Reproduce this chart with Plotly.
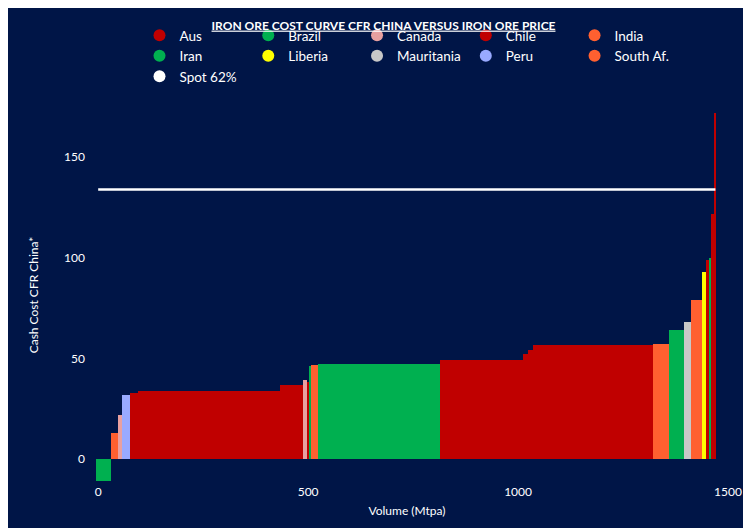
import plotly.graph_objects as go

countries = ["Aus", "Brazil", "Canada", "Chile", "India", "Iran", "Liberia", "Mauritania", "Peru", "South Af."]
colors = ["#C00000", "#00B050", "#E8A0A0", "#C00000", "#FF6030", "#00B050", "#FFFF00", "#C8C8C8", "#99AAFF", "#FF6030"]

seg_country = ["Brazil", "India", "Canada", "Peru", "Chile", "Aus", "Aus", "Canada", "Chile", "Iran", "India",
               "Iran", "Aus", "Aus", "Aus", "Aus", "India", "Iran", "Mauritania", "South Af.", "Liberia",
               "Chile", "Iran", "Aus", "Aus"]
seg_start = [-5, 31, 48, 56, 76, 95, 433, 488, 498, 503, 506, 524, 814, 1012, 1024, 1035, 1321, 1360, 1395, 1412, 1438,
             1448, 1457, 1460, 1466]
seg_end = [31, 48, 56, 76, 95, 433, 488, 498, 503, 506, 524, 814, 1012, 1024, 1035, 1321, 1360, 1395, 1412, 1438, 1448,
           1457, 1460, 1466, 1471]
seg_cost = [-11, 13, 22, 32, 33, 34, 36.5, 39, 38, 46, 46.5, 47, 49, 52, 54, 56.5, 57, 64, 68, 79, 93,
            99, 100, 122, 172]
spot_x = [0, 1470]
spot_y = [134, 134]

fig = go.Figure()
for c, col in zip(countries, colors):
    idx = [i for i, s in enumerate(seg_country) if s == c]
    if idx:
        fig.add_trace(go.Bar(
            x=[(seg_start[i] + seg_end[i]) / 2 for i in idx],
            width=[seg_end[i] - seg_start[i] for i in idx],
            y=[seg_cost[i] for i in idx],
            marker=dict(color=col, line=dict(width=0)),
            name=c, showlegend=False))
    fig.add_trace(go.Scatter(x=[None], y=[None], mode="markers", name=c,
                             marker=dict(color=col, size=12, symbol="circle")))
fig.add_trace(go.Scatter(x=spot_x, y=spot_y, mode="lines", line=dict(color="white", width=2.5),
                         name="Spot 62%", showlegend=False))
fig.add_trace(go.Scatter(x=[None], y=[None], mode="markers", name="Spot 62%",
                         marker=dict(color="white", size=12, symbol="circle")))

bg = "#001547"
fig.update_layout(
    width=751, height=528, paper_bgcolor=bg, plot_bgcolor=bg,
    font=dict(family="Lato", color="white", size=12),
    title=dict(text="<b><u>IRON ORE COST CURVE CFR CHINA VERSUS IRON ORE PRICE</u></b>",
               x=0.5, xanchor="center", y=0.975, font=dict(size=12)),
    barmode="overlay", bargap=0,
    margin=dict(l=78, r=31, t=85, b=53),
    legend=dict(orientation="h", x=0.5, xanchor="center", y=1.04, yanchor="bottom",
                font=dict(size=13.5), itemwidth=30, tracegroupgap=0, entrywidthmode="pixels", entrywidth=0),
    xaxis=dict(range=[-29, 1500], showgrid=False, zeroline=False, tickvals=[0, 500, 1000, 1500],
               automargin=False, title=dict(text="Volume (Mtpa)", font=dict(size=12), standoff=8)),
    yaxis=dict(range=[-12, 175], showgrid=False, zeroline=False, tickvals=[0, 50, 100, 150],
               automargin=False, title=dict(text="Cash Cost CFR China*", font=dict(size=12), standoff=22)),
)
fig.write_html("out.html")
